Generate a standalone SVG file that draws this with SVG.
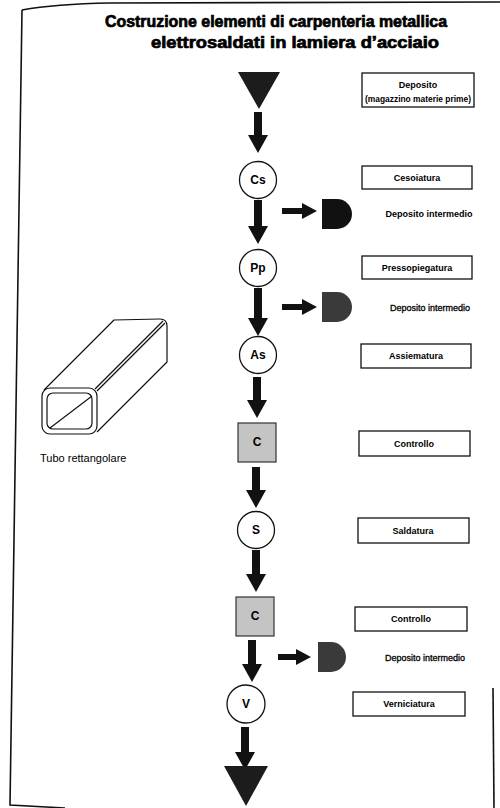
<svg xmlns="http://www.w3.org/2000/svg" width="500" height="808" viewBox="0 0 500 808">
<defs>
<style>
.page{fill:none;stroke:#111;stroke-width:1.6}
.title{font-family:"Liberation Sans",Arial,sans-serif;font-weight:bold;font-size:16px;fill:#000;stroke:#000;stroke-width:0.7;text-anchor:middle}
.box{fill:#fff;stroke:#111;stroke-width:1.3}
.lbl{font-family:"Liberation Sans",Arial,sans-serif;font-weight:bold;font-size:9px;fill:#000;text-anchor:middle}
.lbln{font-family:"Liberation Sans",Arial,sans-serif;font-size:9px;fill:#000;text-anchor:middle;stroke:#000;stroke-width:0.3}
.op{fill:#fff;stroke:#111;stroke-width:1.3}
.opt{font-family:"Liberation Sans",Arial,sans-serif;font-weight:bold;font-size:12px;fill:#000;text-anchor:middle}
.ctl{fill:#c4c4c4;stroke:#333;stroke-width:1.2}
.arr{fill:#111}
.tri{fill:#1c1c1c}
.tube{fill:none;stroke:#111;stroke-width:1.2;stroke-linejoin:round}
.cap{font-family:"Liberation Sans",Arial,sans-serif;font-size:11px;fill:#000}
</style>
</defs>

<g id="page-border">
<path class="page" d="M22,10 Q55,4 110,3 L500,2"/>
<path class="page" d="M22,10 L10,805 L65,808"/>
<path class="page" d="M493,688 L494,808"/>
</g>

<g id="title">
<text class="title" x="276" y="27" textLength="342" lengthAdjust="spacingAndGlyphs">Costruzione elementi di carpenteria metallica</text>
<text class="title" x="295" y="48" textLength="288" lengthAdjust="spacingAndGlyphs">elettrosaldati in lamiera d’acciaio</text>
</g>

<g id="tube">
<path class="tube" d="M44,390 L114,320 L160,319 Q167,319 167,326 L167,362 L97,432"/>
<path class="tube" d="M95,389 L163,321" stroke-width="2.2"/>
<path class="tube" d="M97,391 L165,323"/>
<rect class="tube" x="42" y="388" width="55" height="46" rx="8"/>
<rect class="tube" x="47" y="393" width="45" height="36" rx="6"/>
<path class="tube" d="M50,428 L92,396"/>
<text class="cap" x="40" y="462">Tubo rettangolare</text>
</g>

<g id="connectors">
<path class="arr" d="M254,112 H262 V135 H268 L258,153 L248,135 H254 Z"/>
<path class="arr" d="M254,200 H262 V226 H268 L258,244 L248,226 H254 Z"/>
<path class="arr" d="M254,288 H262 V318 H268 L258,336 L248,318 H254 Z"/>
<path class="arr" d="M253,377 H261 V400 H267 L257,418 L247,400 H253 Z"/>
<path class="arr" d="M252,467 H260 V490 H266 L256,508 L246,490 H252 Z"/>
<path class="arr" d="M252,550 H260 V574 H266 L256,592 L246,574 H252 Z"/>
<path class="arr" d="M248,640 H256 V664 H262 L252,682 L242,664 H248 Z"/>
<path class="arr" d="M241,727 H249 V752 H255 L245,770 L235,752 H241 Z"/>
<path class="arr" d="M282,208 H302 V203 L317,211 L302,219 V214 H282 Z"/>
<path class="arr" d="M282,304 H302 V299 L317,307 L302,315 V310 H282 Z"/>
<path class="arr" d="M278,654 H296 V649 L311,657 L296,665 V660 H278 Z"/>
</g>

<g id="n-start">
<path class="tri" d="M238,72 H280 L259,109 Z"/>
</g>
<g id="n-deposito">
<rect class="box" x="362" y="73" width="112" height="34"/>
<text class="lbl" x="418" y="88">Deposito</text>
<text class="lbl" x="418" y="102" textLength="106" lengthAdjust="spacingAndGlyphs">(magazzino materie prime)</text>
</g>

<g id="n-cs">
<circle class="op" cx="258" cy="180" r="18.5"/>
<text class="opt" x="258" y="184">Cs</text>
</g>
<g id="n-cesoiatura">
<rect class="box" x="362" y="166" width="110" height="23"/>
<text class="lbl" x="417" y="181">Cesoiatura</text>
</g>
<g id="n-dep1">
<path d="M322,199 H337 A15,15 0 0 1 337,229 H322 Z" fill="#111"/>
<text class="lbl" x="429" y="217">Deposito intermedio</text>
</g>

<g id="n-pp">
<circle class="op" cx="258" cy="268" r="18.5"/>
<text class="opt" x="258" y="272">Pp</text>
</g>
<g id="n-pressopiegatura">
<rect class="box" x="362" y="256" width="110" height="23"/>
<text class="lbl" x="417" y="271">Pressopiegatura</text>
</g>
<g id="n-dep2">
<path d="M322,292 H337 A15,15 0 0 1 337,322 H322 Z" fill="#3a3a3a"/>
<text class="lbln" x="430" y="311">Deposito intermedio</text>
</g>

<g id="n-as">
<circle class="op" cx="258" cy="355" r="18.5"/>
<text class="opt" x="258" y="359">As</text>
</g>
<g id="n-assiematura">
<rect class="box" x="361" y="344" width="110" height="24"/>
<text class="lbl" x="416" y="359">Assiematura</text>
</g>

<g id="n-c1">
<rect class="ctl" x="238" y="423" width="38" height="39"/>
<text class="opt" x="257" y="446" font-size="13">C</text>
</g>
<g id="n-controllo1">
<rect class="box" x="359" y="431" width="111" height="25"/>
<text class="lbl" x="414" y="447">Controllo</text>
</g>

<g id="n-s">
<circle class="op" cx="256" cy="530" r="18.5"/>
<text class="opt" x="256" y="534">S</text>
</g>
<g id="n-saldatura">
<rect class="box" x="358" y="518" width="111" height="25"/>
<text class="lbl" x="413" y="534">Saldatura</text>
</g>

<g id="n-c2">
<rect class="ctl" x="236" y="597" width="38" height="39"/>
<text class="opt" x="255" y="620" font-size="13">C</text>
</g>
<g id="n-controllo2">
<rect class="box" x="355" y="607" width="112" height="24"/>
<text class="lbl" x="411" y="622">Controllo</text>
</g>
<g id="n-dep3">
<path d="M318,642 H331 A15,15 0 0 1 331,672 H318 Z" fill="#3a3a3a"/>
<text class="lbln" x="425" y="661">Deposito intermedio</text>
</g>

<g id="n-v">
<circle class="op" cx="246" cy="704" r="19"/>
<text class="opt" x="246" y="708">V</text>
</g>
<g id="n-verniciatura">
<rect class="box" x="353" y="692" width="112" height="24"/>
<text class="lbl" x="409" y="707">Verniciatura</text>
</g>

<g id="n-end">
<path class="tri" d="M224,766 H268 L246,806 Z"/>
</g>
</svg>
